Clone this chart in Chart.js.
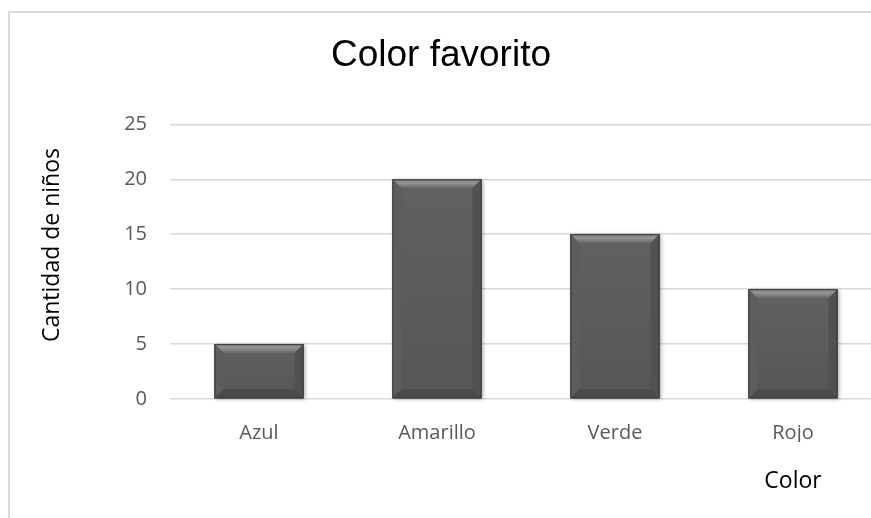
<!DOCTYPE html>
<html lang="es">
<head>
  <meta charset="UTF-8" />
  <title>Color favorito</title>
  <script src="https://cdn.jsdelivr.net/npm/chart.js"></script>
  <style>
    html, body {
      margin: 0;
      padding: 0;
      background: #fff;
      overflow: hidden;
      width: 871px;
      height: 518px;
    }

    #frame {
      position: absolute;
      left: 8px;
      top: 11px;
      width: 900px;
      height: 600px;
      border-top: 2px solid #d9d9d9;
      border-left: 2px solid #d9d9d9;
      z-index: 2;
    }

    #chartBox {
      position: absolute;
      left: 0;
      top: 0;
      width: 892px;
      height: 518px;
    }
  </style>
</head>
<body>

  <div id="frame"></div>
  <div id="chartBox">
    <canvas id="colorChart" width="892" height="518"></canvas>
  </div>

  <script>
    const colores = ['Azul', 'Amarillo', 'Verde', 'Rojo'];
    const ninos = [5, 20, 15, 10];
    const marcasY = [0, 5, 10, 15, 20, 25];

    // bevelled look for the bars (light top edge, dark bottom/right)
    const bevelBars = {
      id: 'bevelBars',
      afterDatasetsDraw(chart) {
        const ctx = chart.ctx;
        const meta = chart.getDatasetMeta(0);
        meta.data.forEach(bar => {
          const l = bar.x - bar.width / 2;
          const r = bar.x + bar.width / 2;
          const t = bar.y;
          const b = bar.base;
          const e = 9;
          ctx.save();

          // soft shadow
          ctx.shadowColor = 'rgba(0,0,0,0.35)';
          ctx.shadowBlur = 4;
          ctx.shadowOffsetX = 1;
          ctx.shadowOffsetY = 1;
          ctx.fillStyle = '#5a5a5a';
          ctx.fillRect(l, t, r - l, b - t);
          ctx.shadowColor = 'transparent';

          const body = ctx.createLinearGradient(0, t, 0, b);
          body.addColorStop(0, '#616161');
          body.addColorStop(1, '#565656');
          ctx.fillStyle = body;
          ctx.fillRect(l, t, r - l, b - t);

          const poly = (pts, fill) => {
            ctx.beginPath();
            ctx.moveTo(pts[0][0], pts[0][1]);
            for (let i = 1; i < pts.length; i++) ctx.lineTo(pts[i][0], pts[i][1]);
            ctx.closePath();
            ctx.fillStyle = fill;
            ctx.fill();
          };

          const top = ctx.createLinearGradient(0, t, 0, t + e);
          top.addColorStop(0, '#7a7a7a');
          top.addColorStop(0.4, '#959595');
          top.addColorStop(1, '#666666');
          poly([[l, t], [r, t], [r - e, t + e], [l + e, t + e]], top);
          poly([[l, t], [l + e, t + e], [l + e, b - e], [l, b]], '#5d5d5d');
          poly([[r, t], [r, b], [r - e, b - e], [r - e, t + e]], '#515151');
          poly([[l, b], [l + e, b - e], [r - e, b - e], [r, b]], '#4a4a4a');

          ctx.strokeStyle = '#3c3c3c';
          ctx.lineWidth = 1;
          ctx.strokeRect(l + 0.5, t + 0.5, r - l - 1, b - t - 1);
          ctx.restore();
        });
      }
    };

    // axis captions: "Color" under the last category, rotated y caption on the left
    const axisCaptions = {
      id: 'axisCaptions',
      afterDraw(chart) {
        const ctx = chart.ctx;
        const xs = chart.scales.x;
        ctx.save();
        ctx.font = '23px "Open Sans"';
        ctx.fillStyle = '#000';
        ctx.textAlign = 'center';
        ctx.textBaseline = 'middle';
        ctx.fillText('Color', xs.getPixelForValue(colores.length - 1), 481);

        ctx.translate(52, 245);
        ctx.rotate(-Math.PI / 2);
        ctx.fillText('Cantidad de niños', 0, 0);
        ctx.restore();
      }
    };

    const ctx = document.getElementById('colorChart').getContext('2d');
    new Chart(ctx, {
      type: 'bar',
      data: {
        labels: colores,
        datasets: [{
          label: 'Cantidad de niños',
          data: ninos,
          backgroundColor: '#595959',
          barPercentage: 0.5,
          categoryPercentage: 1.0
        }]
      },
      options: {
        responsive: false,
        animation: false,
        layout: { padding: { left: 0, right: 10, top: 0, bottom: 76 } },
        plugins: {
          legend: { display: false },
          tooltip: { enabled: false },
          title: {
            display: true,
            text: 'Color favorito',
            color: '#000',
            font: { family: '"Liberation Sans", Arial, sans-serif', size: 37, weight: 'normal' },
            padding: { top: 34, bottom: 46 }
          }
        },
        scales: {
          x: {
            afterFit(scale) { scale.height = 43; },
            grid: { display: false, drawTicks: false },
            border: { display: false },
            ticks: {
              color: '#595959',
              font: { family: '"Open Sans"', size: 20 },
              padding: 22
            }
          },
          y: {
            min: 0,
            max: 25,
            afterBuildTicks(scale) {
              scale.ticks = marcasY.map(v => ({ value: v }));
            },
            afterFit(scale) { scale.width = 170; },
            grid: { color: '#d9d9d9', lineWidth: 1.5, drawTicks: false },
            border: { display: false },
            ticks: {
              color: '#595959',
              font: { family: '"Open Sans"', size: 20 },
              padding: 23
            }
          }
        }
      },
      plugins: [bevelBars, axisCaptions]
    });
  </script>

</body>
</html>
